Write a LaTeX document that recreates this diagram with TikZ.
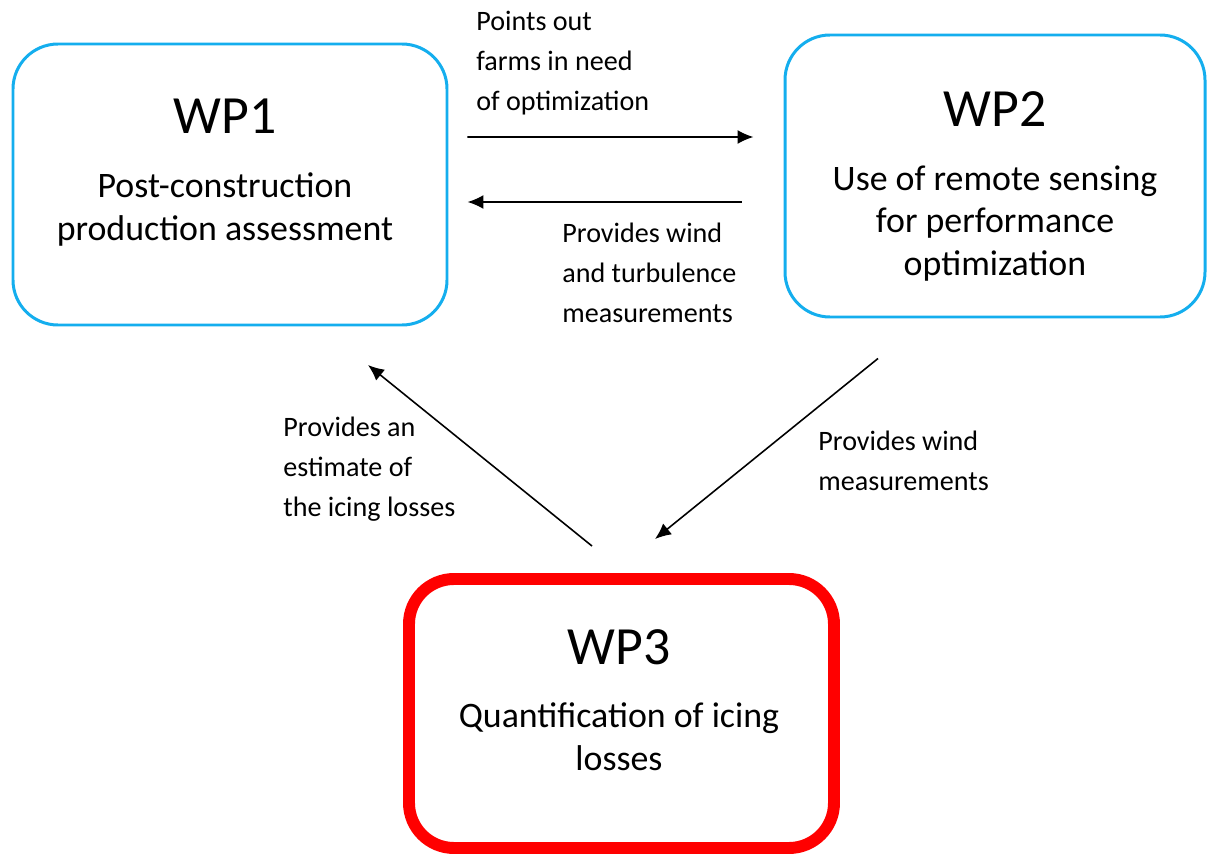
\documentclass[tikz,border=0pt]{standalone}
\usepackage{fontspec}
\setmainfont{Carlito}
\usepackage{xcolor}
\usetikzlibrary{shapes,arrows.meta,positioning,calc}
\definecolor{wpblue}{RGB}{20,174,238}
\definecolor{wpred}{RGB}{255,0,0}
\newcommand{\wptitlefont}{\fontsize{30.6}{31}\selectfont}

\begin{document}
\begin{tikzpicture}[
    wpbox/.style={rectangle, draw=wpblue, line width=1.7pt, rounded corners=0.9cm, fill=white},
    wpfocus/.style={wpbox, draw=wpred, line width=6.8pt},
    wptext/.style={anchor=north, align=center, inner sep=0pt, font=\fontsize{20.4}{24.2}\selectfont},
    arrow/.style={-{Latex[length=0.32cm,width=0.28cm]}, line width=0.9pt},
    label/.style={anchor=north west, align=left, inner sep=0pt, font=\fontsize{16}{22.6}\selectfont}
]

\useasboundingbox (0,0) rectangle (24.18,-17.12);

% Work packages
\node[wpbox, minimum width=8.68cm, minimum height=5.62cm] (wp1) at (4.60,-3.69) {};
\node[wpbox, minimum width=8.40cm, minimum height=5.64cm] (wp2) at (19.90,-3.52) {};
\node[wpfocus, minimum width=8.50cm, minimum height=5.38cm] (wp3) at (12.43,-14.27) {};

\node[wptext] (wp1txt) at ([xshift=-0.1cm,yshift=-1.13cm]wp1.north) {{\wptitlefont WP1}\\[0.42cm]Post-construction\\production assessment};
\node[wptext] (wp2txt) at ([yshift=-1.16cm]wp2.north) {{\wptitlefont WP2}\\[0.42cm]Use of remote sensing\\for performance\\optimization};
\node[wptext] (wp3txt) at ([xshift=-0.05cm,yshift=-1.12cm]wp3.north) {{\wptitlefont WP3}\\[0.42cm]Quantification of icing\\losses};

% Arrows
\draw[arrow] ([xshift=0.38cm,yshift=0.95cm]wp1.east) -- ([xshift=-0.6cm,yshift=0.78cm]wp2.west);
\draw[arrow] ([xshift=-0.84cm,yshift=-0.52cm]wp2.west) -- ([xshift=0.38cm,yshift=-0.35cm]wp1.east);
\draw[arrow] ([xshift=-0.59cm,yshift=0.54cm]wp3.north) -- ([xshift=2.76cm,yshift=-0.77cm]wp1.south);
\draw[arrow] ([xshift=-2.34cm,yshift=-0.80cm]wp2.south) -- ([xshift=0.67cm,yshift=0.68cm]wp3.north);

% Labels
\node[label] (lbl12) at (9.52,-0.22) {Points out\\farms in need\\of optimization};
\node[label] (lbl21) at (11.24,-4.46) {Provides wind\\and turbulence\\measurements};
\node[label] (lbl31) at (5.66,-8.34) {Provides an\\estimate of\\the icing losses};
\node[label] (lbl23) at (16.36,-8.62) {Provides wind\\measurements};

\end{tikzpicture}
\end{document}
